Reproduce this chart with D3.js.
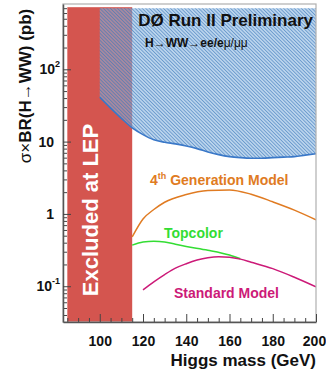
<!DOCTYPE html>
<html>
<head>
<meta charset="utf-8">
<script src="https://cdn.jsdelivr.net/npm/d3@7"></script>
<style>
  body { margin: 0; background: #fff; }
  text { font-family: "Liberation Sans", Arial, Helvetica, sans-serif; font-weight: bold; }
</style>
</head>
<body>
<script>
// layout
const WIDTH = 326, HEIGHT = 375;
let margin = {top: 4, right: 10, bottom: 53, left: 63},
    width = WIDTH - margin.left - margin.right,
    height = HEIGHT - margin.top - margin.bottom;

// data
const lepLimit = 115;          // GeV, excluded at LEP
const lepStart = 85;
const limitTop = 700;          // top of the hatched region (pb)

const limitMass = [100, 105, 110, 115, 120, 125, 130, 135, 140, 145, 150, 155, 160, 165, 170, 175, 180, 185, 190, 195, 200];
const limitXsec = [41, 29, 21, 15.5, 12.5, 10.6, 9.8, 9.3, 8.7, 8.0, 7.2, 6.6, 6.2, 6.0, 5.9, 5.9, 6.0, 6.1, 6.2, 6.5, 6.8];

const gen4Mass = [115, 120, 125, 130, 140, 150, 160, 170, 180, 190, 200];
const gen4Xsec = [0.48, 0.85, 1.15, 1.45, 1.85, 2.1, 2.15, 1.87, 1.47, 1.13, 0.83];

const topMass = [115, 120, 125, 130, 135, 140, 150, 160, 165];
const topXsec = [0.37, 0.41, 0.42, 0.41, 0.38, 0.355, 0.315, 0.27, 0.24];

const smMass = [120, 125, 130, 135, 140, 145, 150, 155, 160, 165, 170, 180, 190, 200];
const smXsec = [0.089, 0.115, 0.145, 0.178, 0.205, 0.23, 0.248, 0.256, 0.252, 0.237, 0.215, 0.175, 0.133, 0.098];

const xTicks = [100, 120, 140, 160, 180, 200];
const yTicks = [0.1, 1, 10, 100];
const yTickLabels = [["10", "-1"], ["1", ""], ["10", ""], ["10", "2"]];

const colors = {lep: "#d4554f", limit: "#3a78c8", gen4: "#e07b22", top: "#33dd33", sm: "#cc1a78"};

let svg = d3.select("body").append("svg")
    .attr("width", WIDTH)
    .attr("height", HEIGHT);

let defs = svg.append("defs");
let pat = defs.append("pattern")
    .attr("id", "hatch")
    .attr("patternUnits", "userSpaceOnUse")
    .attr("width", 2.5).attr("height", 2.5)
    .attr("patternTransform", "rotate(-45)");
pat.append("rect").attr("width", 2.5).attr("height", 2.5).attr("fill", "#86b4e0").attr("opacity", 0.55);
pat.append("line").attr("x1", 0.5).attr("y1", 0).attr("x2", 0.5).attr("y2", 2.5)
    .attr("stroke", "#3a76ba").attr("stroke-width", 0.8).attr("opacity", 0.75);

defs.append("clipPath").attr("id", "clip")
    .append("rect").attr("width", width).attr("height", height);

let chart = svg.append("g")
    .attr("transform", "translate(" + margin.left + "," + margin.top + ")");

let x = d3.scaleLinear().domain([83, 200]).range([0, width]);
let y = d3.scaleLog().domain([0.032, 800]).range([height, 0]);

let plot = chart.append("g").attr("clip-path", "url(#clip)");

// LEP exclusion
plot.append("rect")
    .attr("x", x(lepStart))
    .attr("y", y(limitTop) - 1)
    .attr("width", x(lepLimit) - x(lepStart))
    .attr("height", height - y(limitTop) + 1)
    .attr("fill", colors.lep);

// excluded cross section (hatched)
let limitData = limitMass.map((m, i) => ({m: m, v: limitXsec[i]}));
plot.append("path")
    .datum(limitData)
    .attr("fill", "url(#hatch)")
    .attr("d", d3.area().x(d => x(d.m)).y0(y(limitTop)).y1(d => y(d.v)).curve(d3.curveMonotoneX));
plot.append("path")
    .datum(limitData)
    .attr("fill", "none")
    .attr("stroke", colors.limit)
    .attr("stroke-width", 1.6)
    .attr("d", d3.line().x(d => x(d.m)).y(d => y(d.v)).curve(d3.curveMonotoneX));

// model curves
function curve(ms, vs, col) {
    plot.append("path")
        .datum(ms.map((m, i) => ({m: m, v: vs[i]})))
        .attr("fill", "none")
        .attr("stroke", col)
        .attr("stroke-width", 1.5)
        .attr("d", d3.line().x(d => x(d.m)).y(d => y(d.v)).curve(d3.curveMonotoneX));
}
curve(gen4Mass, gen4Xsec, colors.gen4);
curve(topMass, topXsec, colors.top);
curve(smMass, smXsec, colors.sm);

// frame
chart.append("rect")
    .attr("width", width).attr("height", height)
    .attr("fill", "none").attr("stroke", "#b0b0b0").attr("stroke-width", 1.2);

// axes (ticks inside)
let xMinor = d3.range(85, 201, 5).filter(v => v % 20 != 0);
chart.append("g")
    .attr("transform", "translate(0," + height + ")")
    .call(d3.axisBottom(x).tickValues(xMinor).tickSize(-4).tickFormat(""))
    .call(g => g.select(".domain").remove());
let xAxis = chart.append("g")
    .attr("transform", "translate(0," + height + ")")
    .call(d3.axisBottom(x).tickValues(xTicks).tickSize(-8).tickSizeOuter(0).tickPadding(14));
xAxis.select(".domain").attr("stroke", "#555").attr("stroke-width", 1.5);
xAxis.selectAll("text").attr("font-size", 14).attr("fill", "#111");
xAxis.selectAll("text").filter(d => d == 200).attr("dx", -2);

let yMinor = [];
[0.01, 0.1, 1, 10, 100].forEach(d => {
    for (let k = 2; k <= 9; k++) {
        let v = k * d;
        if (v > 0.032 && v < 800) yMinor.push(v);
    }
});
chart.append("g")
    .call(d3.axisLeft(y).tickValues(yMinor).tickSize(-4).tickFormat(""))
    .call(g => g.select(".domain").remove());
let yAxis = chart.append("g")
    .call(d3.axisLeft(y).tickValues(yTicks).tickSize(-8).tickSizeOuter(0).tickFormat(""));
yAxis.select(".domain").attr("stroke", "#555").attr("stroke-width", 1.5);
chart.selectAll(".tick line").attr("stroke", "#444");

yTicks.forEach((v, i) => {
    let t = chart.append("text")
        .attr("x", yTickLabels[i][1] ? -3 : -9)
        .attr("y", y(v) + 5)
        .attr("text-anchor", "end")
        .attr("font-size", 14)
        .attr("fill", "#111");
    t.append("tspan").text(yTickLabels[i][0]);
    if (yTickLabels[i][1]) {
        t.append("tspan").attr("font-size", 9).attr("dy", -7).text(yTickLabels[i][1]);
    }
});

// axis titles
chart.append("text")
    .attr("x", width)
    .attr("y", height + 44)
    .attr("text-anchor", "end")
    .attr("font-size", 17)
    .attr("fill", "#111")
    .text("Higgs mass (GeV)");

let yt = chart.append("text")
    .attr("transform", "translate(" + (-32) + "," + 82 + ") rotate(-90)")
    .attr("text-anchor", "middle")
    .attr("font-size", 17)
    .attr("fill", "#111");
yt.append("tspan").attr("font-weight", "normal").text("σ×");
yt.append("tspan").text("BR(H");
yt.append("tspan").attr("font-weight", "normal").text("→");
yt.append("tspan").text("WW) (pb)");

// labels in the plot
chart.append("text")
    .attr("transform", "translate(" + (x(100) - 2) + "," + 206 + ") rotate(-90)")
    .attr("text-anchor", "middle")
    .attr("font-size", 22)
    .attr("fill", "#fff")
    .text("Excluded at LEP");

chart.append("text")
    .attr("x", width - 3).attr("y", 22)
    .attr("text-anchor", "end")
    .attr("font-size", 17)
    .attr("fill", "#111")
    .text("DØ Run II Preliminary");

let chan = chart.append("text")
    .attr("x", 82).attr("y", 43)
    .attr("font-size", 12)
    .attr("fill", "#111");
chan.append("tspan").text("H");
chan.append("tspan").attr("font-weight", "normal").text("→");
chan.append("tspan").text("WW");
chan.append("tspan").attr("font-weight", "normal").text("→");
chan.append("tspan").text("ee/e");
chan.append("tspan").attr("font-weight", "normal").text("μ/μμ");

let g4 = chart.append("text")
    .attr("x", 87).attr("y", 181)
    .attr("font-size", 14)
    .attr("fill", colors.gen4);
g4.append("tspan").text("4");
g4.append("tspan").attr("font-size", 9).attr("dy", -6).text("th");
g4.append("tspan").attr("dy", 6).text(" Generation Model");

chart.append("text")
    .attr("x", 101).attr("y", 234)
    .attr("font-size", 14)
    .attr("fill", colors.top)
    .text("Topcolor");

chart.append("text")
    .attr("x", 111).attr("y", 294)
    .attr("font-size", 14)
    .attr("fill", colors.sm)
    .text("Standard Model");
</script>
</body>
</html>
